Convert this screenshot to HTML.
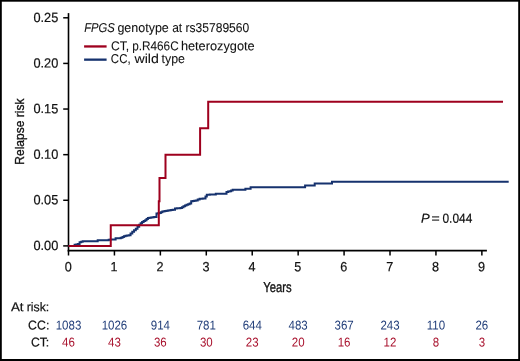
<!DOCTYPE html>
<html><head><meta charset="utf-8"><title>Relapse risk by FPGS genotype</title>
<style>
html,body{margin:0;padding:0;background:#fff;}
body{width:520px;height:361px;overflow:hidden;}
svg{display:block;will-change:transform;}
text{font-family:"Liberation Sans",sans-serif;fill:#111;stroke:#111;stroke-width:0.2px;}
.ax{font-size:13.3px;}
.lg{font-size:12.9px;stroke-width:0.08px;}
.pv{font-size:13px;}
.ti{font-size:14.4px;stroke-width:0.35px;}
.ti2{font-size:13.6px;stroke-width:0.35px;}
.rk{font-size:12.8px;}
</style></head><body>
<svg width="520" height="361" viewBox="0 0 520 361">
<rect x="0" y="0" width="520" height="361" fill="#000"/>
<rect x="1.8" y="1.7" width="516.4" height="357.3" fill="#fff"/>
<path d="M68.5,13.1 V251.4" stroke="#000" stroke-width="1.6" fill="none"/>
<path d="M67.7,250.65 H486.9" stroke="#000" stroke-width="1.6" fill="none"/>
<path d="M63.2,245.90 H68.5" stroke="#000" stroke-width="1.5" fill="none"/>
<text transform="translate(58.3,250.00) rotate(0.05) scale(0.96,1)" text-anchor="end" class="ax">0.00</text>
<path d="M63.2,200.28 H68.5" stroke="#000" stroke-width="1.5" fill="none"/>
<text transform="translate(58.3,204.38) rotate(0.05) scale(0.96,1)" text-anchor="end" class="ax">0.05</text>
<path d="M63.2,154.66 H68.5" stroke="#000" stroke-width="1.5" fill="none"/>
<text transform="translate(58.3,158.76) rotate(0.05) scale(0.96,1)" text-anchor="end" class="ax">0.10</text>
<path d="M63.2,109.04 H68.5" stroke="#000" stroke-width="1.5" fill="none"/>
<text transform="translate(58.3,113.14) rotate(0.05) scale(0.96,1)" text-anchor="end" class="ax">0.15</text>
<path d="M63.2,63.42 H68.5" stroke="#000" stroke-width="1.5" fill="none"/>
<text transform="translate(58.3,67.52) rotate(0.05) scale(0.96,1)" text-anchor="end" class="ax">0.20</text>
<path d="M63.2,17.80 H68.5" stroke="#000" stroke-width="1.5" fill="none"/>
<text transform="translate(58.3,21.90) rotate(0.05) scale(0.96,1)" text-anchor="end" class="ax">0.25</text>
<path d="M68.50,250.5 V255.5" stroke="#000" stroke-width="1.5" fill="none"/>
<text transform="translate(68.20,271.2) rotate(0.05) scale(0.95,1)" text-anchor="middle" class="ax">0</text>
<path d="M114.43,250.5 V255.5" stroke="#000" stroke-width="1.5" fill="none"/>
<text transform="translate(114.13,271.2) rotate(0.05) scale(0.95,1)" text-anchor="middle" class="ax">1</text>
<path d="M160.36,250.5 V255.5" stroke="#000" stroke-width="1.5" fill="none"/>
<text transform="translate(160.06,271.2) rotate(0.05) scale(0.95,1)" text-anchor="middle" class="ax">2</text>
<path d="M206.29,250.5 V255.5" stroke="#000" stroke-width="1.5" fill="none"/>
<text transform="translate(205.99,271.2) rotate(0.05) scale(0.95,1)" text-anchor="middle" class="ax">3</text>
<path d="M252.22,250.5 V255.5" stroke="#000" stroke-width="1.5" fill="none"/>
<text transform="translate(251.92,271.2) rotate(0.05) scale(0.95,1)" text-anchor="middle" class="ax">4</text>
<path d="M298.15,250.5 V255.5" stroke="#000" stroke-width="1.5" fill="none"/>
<text transform="translate(297.85,271.2) rotate(0.05) scale(0.95,1)" text-anchor="middle" class="ax">5</text>
<path d="M344.08,250.5 V255.5" stroke="#000" stroke-width="1.5" fill="none"/>
<text transform="translate(343.78,271.2) rotate(0.05) scale(0.95,1)" text-anchor="middle" class="ax">6</text>
<path d="M390.01,250.5 V255.5" stroke="#000" stroke-width="1.5" fill="none"/>
<text transform="translate(389.71,271.2) rotate(0.05) scale(0.95,1)" text-anchor="middle" class="ax">7</text>
<path d="M435.94,250.5 V255.5" stroke="#000" stroke-width="1.5" fill="none"/>
<text transform="translate(435.64,271.2) rotate(0.05) scale(0.95,1)" text-anchor="middle" class="ax">8</text>
<path d="M481.87,250.5 V255.5" stroke="#000" stroke-width="1.5" fill="none"/>
<text transform="translate(481.57,271.2) rotate(0.05) scale(0.95,1)" text-anchor="middle" class="ax">9</text>
<path d="M68.50,245.90 L73.60,245.90 L74.60,245.90 L74.60,244.80 L76.20,244.80 L76.20,244.40 L77.80,244.40 L77.80,244.00 L79.60,244.00 L79.60,242.20 L81.15,242.20 L81.15,241.75 L82.70,241.75 L82.70,241.30 L95.60,241.30 L97.70,241.30 L97.70,240.20 L107.00,240.20 L108.70,240.20 L108.70,239.80 L110.40,239.80 L110.40,239.40 L113.30,239.40 L115.60,239.40 L115.60,238.30 L117.30,238.30 L117.30,238.25 L119.00,238.25 L119.00,238.20 L120.75,238.20 L120.75,237.65 L122.50,237.65 L122.50,237.10 L123.90,237.10 L123.90,236.20 L125.53,236.20 L125.53,235.87 L127.17,235.87 L127.17,235.53 L128.80,235.53 L128.80,235.20 L130.55,235.20 L130.55,233.45 L132.30,233.45 L132.30,231.70 L134.05,231.70 L134.05,230.25 L135.80,230.25 L135.80,228.80 L137.50,228.80 L137.50,226.80 L139.20,226.80 L139.20,224.80 L140.65,224.80 L140.65,223.35 L142.10,223.35 L142.10,221.90 L143.65,221.90 L143.65,221.05 L145.20,221.05 L145.20,220.20 L146.55,220.20 L146.55,219.05 L147.90,219.05 L147.90,217.90 L149.47,217.90 L149.47,217.70 L151.05,217.70 L151.05,217.50 L152.62,217.50 L152.62,217.30 L154.20,217.30 L154.20,217.10 L156.50,217.10 L156.50,213.60 L157.95,213.60 L157.95,213.25 L159.40,213.25 L159.40,212.90 L160.85,212.90 L160.85,212.20 L162.30,212.20 L162.30,211.50 L163.73,211.50 L163.73,211.28 L165.15,211.28 L165.15,211.05 L166.57,211.05 L166.57,210.82 L168.00,210.82 L168.00,210.60 L169.57,210.60 L169.57,210.33 L171.13,210.33 L171.13,210.07 L172.70,210.07 L172.70,209.80 L175.00,209.80 L175.00,208.50 L176.80,208.50 L176.80,208.37 L178.60,208.37 L178.60,208.23 L180.40,208.23 L180.40,208.10 L181.93,208.10 L181.93,207.23 L183.47,207.23 L183.47,206.37 L185.00,206.37 L185.00,205.50 L186.53,205.50 L186.53,204.83 L188.07,204.83 L188.07,204.17 L189.60,204.17 L189.60,203.50 L191.20,203.50 L191.20,201.20 L192.73,201.20 L192.73,200.93 L194.27,200.93 L194.27,200.67 L195.80,200.67 L195.80,200.40 L197.70,200.40 L197.70,199.60 L199.60,199.60 L199.60,198.80 L201.13,198.80 L201.13,198.67 L202.67,198.67 L202.67,198.53 L204.20,198.53 L204.20,198.40 L205.50,198.40 L205.50,196.55 L206.80,196.55 L206.80,194.70 L208.28,194.70 L208.28,194.66 L209.76,194.66 L209.76,194.62 L211.24,194.62 L211.24,194.58 L212.72,194.58 L212.72,194.54 L214.20,194.54 L214.20,194.50 L215.80,194.50 L215.80,193.80 L224.20,193.80 L226.50,193.80 L226.50,191.90 L228.05,191.90 L228.05,191.55 L229.60,191.55 L229.60,191.20 L231.15,191.20 L231.15,190.50 L232.70,190.50 L232.70,189.80 L245.40,189.80 L245.40,188.65 L250.60,188.65 L250.60,187.15 L305.10,187.15 L305.10,185.45 L314.70,185.45 L314.70,183.50 L332.00,183.50 L332.00,181.70 L508.70,181.70" stroke="#16326E" stroke-width="2" fill="none" stroke-linejoin="miter"/>
<path d="M68.50,245.90 L110.75,245.90 L110.75,225.20 L158.80,225.20 L158.80,201.30 L159.50,201.30 L159.50,178.10 L165.50,178.10 L165.50,154.70 L200.10,154.70 L200.10,128.20 L208.20,128.20 L208.20,101.80 L503.00,101.80" stroke="#9E001E" stroke-width="2" fill="none" stroke-linejoin="miter"/>
<path d="M84.1,46.45 H106.6" stroke="#9E001E" stroke-width="2.3" fill="none"/>
<path d="M84.1,59.65 H106.6" stroke="#16326E" stroke-width="2.3" fill="none"/>
<text transform="translate(84.13,32.0) rotate(0.05)" class="w lg" textLength="30.61" lengthAdjust="spacingAndGlyphs" font-style="italic">FPGS</text>
<text transform="translate(117.43,32.0) rotate(0.05)" class="w lg" textLength="51.37" lengthAdjust="spacingAndGlyphs">genotype</text>
<text transform="translate(172.14,32.0) rotate(0.05)" class="w lg" textLength="10.06" lengthAdjust="spacingAndGlyphs">at</text>
<text transform="translate(185.54,32.0) rotate(0.05)" class="w lg" textLength="63.68" lengthAdjust="spacingAndGlyphs">rs35789560</text>
<text transform="translate(110.89,50.2) rotate(0.05)" class="w lg" textLength="18.31" lengthAdjust="spacingAndGlyphs">CT,</text>
<text transform="translate(132.17,50.2) rotate(0.05)" class="w lg" textLength="46.49" lengthAdjust="spacingAndGlyphs">p.R466C</text>
<text transform="translate(180.88,50.2) rotate(0.05)" class="w lg" textLength="73.79" lengthAdjust="spacingAndGlyphs">heterozygote</text>
<text transform="translate(110.86,63.0) rotate(0.05)" class="w lg" textLength="19.76" lengthAdjust="spacingAndGlyphs">CC,</text>
<text transform="translate(134.51,63.0) rotate(0.05)" class="w lg" textLength="24.36" lengthAdjust="spacingAndGlyphs">wild</text>
<text transform="translate(161.62,63.0) rotate(0.05)" class="w lg" textLength="23.37" lengthAdjust="spacingAndGlyphs">type</text>
<text transform="translate(421.10,222.7) rotate(0.05)" class="w pv" textLength="8.70" lengthAdjust="spacingAndGlyphs" font-style="italic">P</text>
<text transform="translate(431.44,222.7) rotate(0.05)" class="w pv" textLength="8.21" lengthAdjust="spacingAndGlyphs">=</text>
<text transform="translate(442.47,222.7) rotate(0.05)" class="w pv" textLength="29.85" lengthAdjust="spacingAndGlyphs">0.044</text>
<text transform="translate(10.90,311.2) rotate(0.05)" class="w rk" textLength="12.66" lengthAdjust="spacingAndGlyphs">At</text>
<text transform="translate(26.70,311.2) rotate(0.05)" class="w rk" textLength="22.61" lengthAdjust="spacingAndGlyphs">risk:</text>
<text transform="translate(28.08,329.6) rotate(0.05)" class="w rk" textLength="21.28" lengthAdjust="spacingAndGlyphs">CC:</text>
<text transform="translate(30.88,346.5) rotate(0.05)" class="w rk" textLength="18.40" lengthAdjust="spacingAndGlyphs">CT:</text>
<text transform="translate(277.5,291.9) rotate(0.05) scale(0.78,1)" text-anchor="middle" class="ti">Years</text>
<text transform="translate(23.9,131.6) rotate(-90) scale(0.885,1)" text-anchor="middle" class="ti2">Relapse risk</text>
<text transform="translate(68.50,329.6) rotate(0.05) scale(0.9,1)" text-anchor="middle" class="rk" style="fill:#1F3C78;stroke:none">1083</text>
<text transform="translate(68.50,346.5) rotate(0.05) scale(0.9,1)" text-anchor="middle" class="rk" style="fill:#A8102C;stroke:none">46</text>
<text transform="translate(114.43,329.6) rotate(0.05) scale(0.9,1)" text-anchor="middle" class="rk" style="fill:#1F3C78;stroke:none">1026</text>
<text transform="translate(114.43,346.5) rotate(0.05) scale(0.9,1)" text-anchor="middle" class="rk" style="fill:#A8102C;stroke:none">43</text>
<text transform="translate(160.36,329.6) rotate(0.05) scale(0.9,1)" text-anchor="middle" class="rk" style="fill:#1F3C78;stroke:none">914</text>
<text transform="translate(160.36,346.5) rotate(0.05) scale(0.9,1)" text-anchor="middle" class="rk" style="fill:#A8102C;stroke:none">36</text>
<text transform="translate(206.29,329.6) rotate(0.05) scale(0.9,1)" text-anchor="middle" class="rk" style="fill:#1F3C78;stroke:none">781</text>
<text transform="translate(206.29,346.5) rotate(0.05) scale(0.9,1)" text-anchor="middle" class="rk" style="fill:#A8102C;stroke:none">30</text>
<text transform="translate(252.22,329.6) rotate(0.05) scale(0.9,1)" text-anchor="middle" class="rk" style="fill:#1F3C78;stroke:none">644</text>
<text transform="translate(252.22,346.5) rotate(0.05) scale(0.9,1)" text-anchor="middle" class="rk" style="fill:#A8102C;stroke:none">23</text>
<text transform="translate(298.15,329.6) rotate(0.05) scale(0.9,1)" text-anchor="middle" class="rk" style="fill:#1F3C78;stroke:none">483</text>
<text transform="translate(298.15,346.5) rotate(0.05) scale(0.9,1)" text-anchor="middle" class="rk" style="fill:#A8102C;stroke:none">20</text>
<text transform="translate(344.08,329.6) rotate(0.05) scale(0.9,1)" text-anchor="middle" class="rk" style="fill:#1F3C78;stroke:none">367</text>
<text transform="translate(344.08,346.5) rotate(0.05) scale(0.9,1)" text-anchor="middle" class="rk" style="fill:#A8102C;stroke:none">16</text>
<text transform="translate(390.01,329.6) rotate(0.05) scale(0.9,1)" text-anchor="middle" class="rk" style="fill:#1F3C78;stroke:none">243</text>
<text transform="translate(390.01,346.5) rotate(0.05) scale(0.9,1)" text-anchor="middle" class="rk" style="fill:#A8102C;stroke:none">12</text>
<text transform="translate(435.94,329.6) rotate(0.05) scale(0.9,1)" text-anchor="middle" class="rk" style="fill:#1F3C78;stroke:none">110</text>
<text transform="translate(435.94,346.5) rotate(0.05) scale(0.9,1)" text-anchor="middle" class="rk" style="fill:#A8102C;stroke:none">8</text>
<text transform="translate(481.87,329.6) rotate(0.05) scale(0.9,1)" text-anchor="middle" class="rk" style="fill:#1F3C78;stroke:none">26</text>
<text transform="translate(481.87,346.5) rotate(0.05) scale(0.9,1)" text-anchor="middle" class="rk" style="fill:#A8102C;stroke:none">3</text>
</svg>
</body></html>
